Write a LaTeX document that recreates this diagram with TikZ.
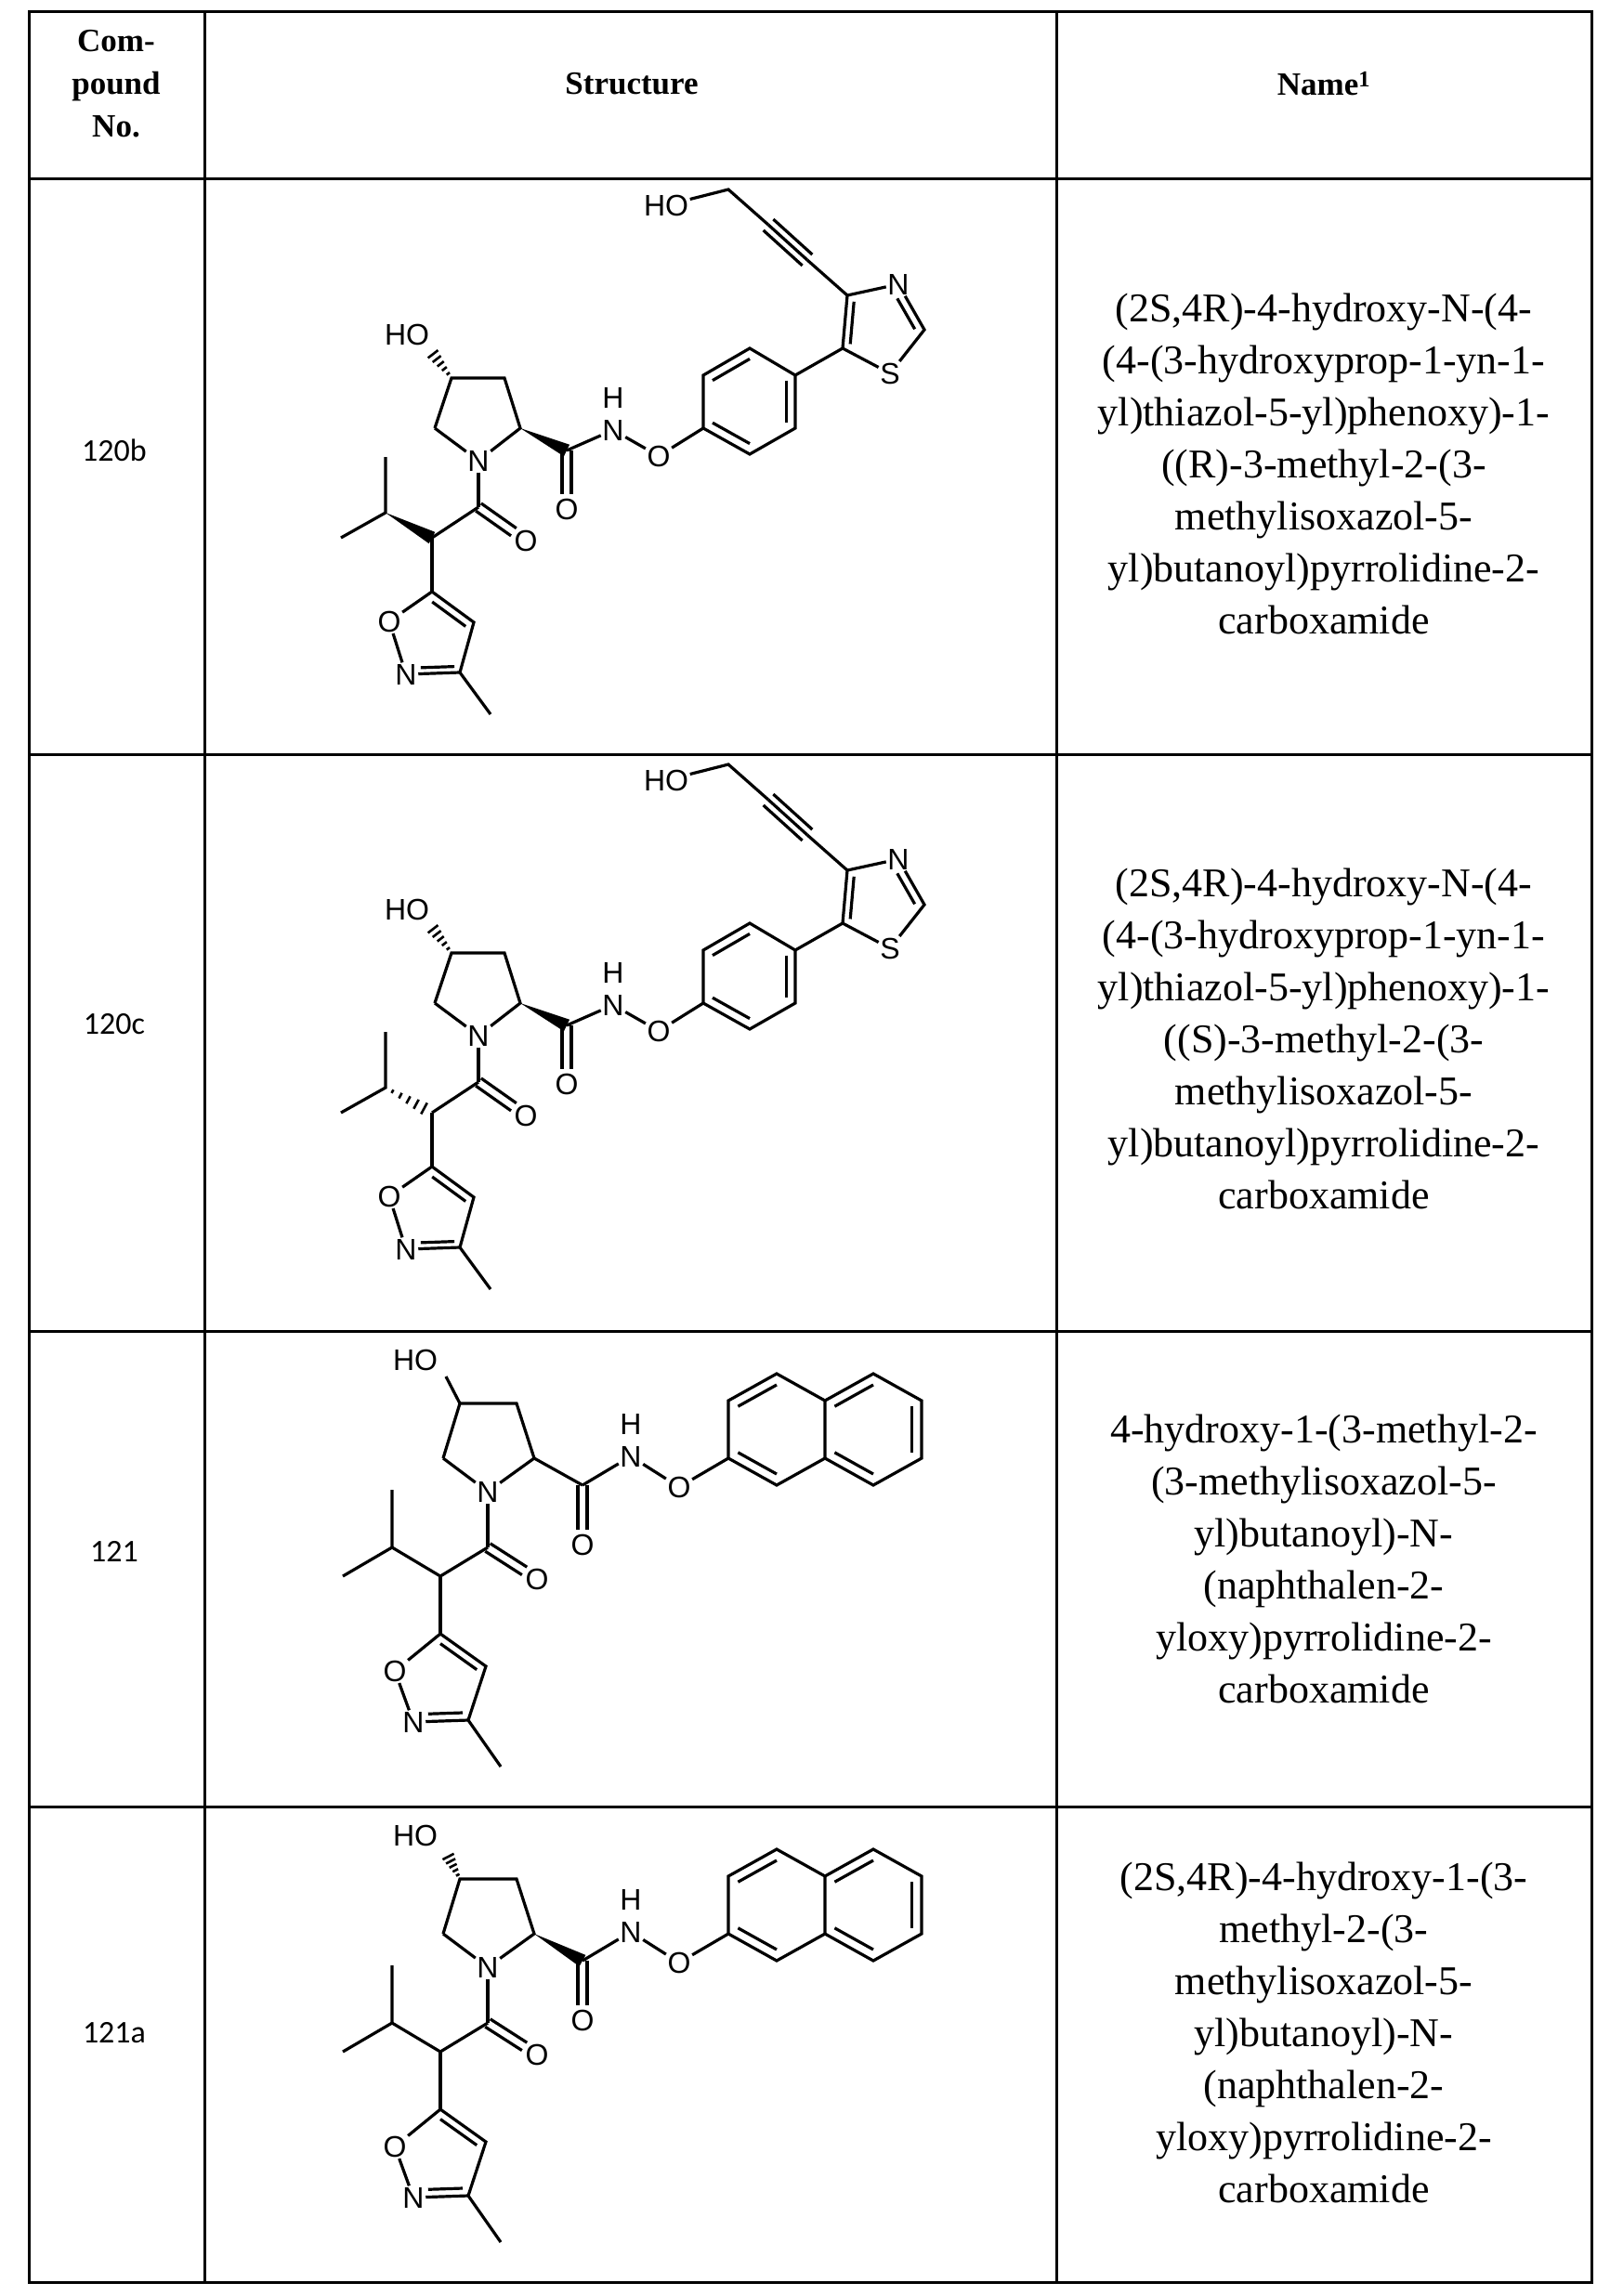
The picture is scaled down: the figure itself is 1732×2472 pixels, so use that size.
\documentclass[tikz,border=0pt]{standalone}
\usepackage{fontspec}
\setmainfont{Liberation Serif}
\newfontfamily\atomfont{Liberation Sans}
\newfontfamily\numfont{Carlito}
\usetikzlibrary{calc}
\tikzset{
  bond/.style={line width=3.2pt},
  grid/.style={line width=3pt},
  atom/.style={font=\atomfont\fontsize{32}{34}\selectfont, inner sep=1.5pt},
  hdr/.style={font=\bfseries\fontsize{35}{46}\selectfont, align=center},
  cname/.style={font=\fontsize{44}{56}\selectfont, align=center},
  cnum/.style={font=\numfont\fontsize{34}{40}\selectfont}
}
\newcommand\inb[3]{\draw[bond] ($(#1)!0.2!(#3)$) -- ($(#2)!0.2!(#3)$);}
\newcommand\pairb[3]{%
  \draw[bond,shorten >=#3] ($(#1)!5pt!90:(#2)$) -- ($(#2)!5pt!-90:(#1)$);
  \draw[bond,shorten >=#3] ($(#1)!5pt!-90:(#2)$) -- ($(#2)!5pt!90:(#1)$);}
\newcommand\wedgeb[2]{\fill (#1) -- ($(#2)!7pt!90:(#1)$) -- ($(#2)!7pt!-90:(#1)$) -- cycle;}
\newcommand\hashb[2]{%
  \foreach \t in {0.15,0.32,0.49,0.66,0.83,1.0}{%
    \pgfmathsetmacro\w{1+\t*7}%
    \draw[line width=2.6pt] ($(#1)!\t!(#2)!\w pt!90:(#2)$) -- ($(#1)!\t!(#2)!\w pt!-90:(#2)$);}}
% 120b / 120c
\newcommand\molA[2]{%
\begin{scope}[yshift=#1]
  \coordinate (c4) at (486,407); \coordinate (c3) at (543,407);
  \coordinate (c2) at (560,461); \coordinate (c5) at (468,461);
  \node[atom] (n1) at (515,496) {N};
  \node[atom] (ho) at (438,360) {HO};
  \coordinate (hoend) at (462,376);
  \coordinate (cam) at (610,485);
  \node[atom] (oam) at (610,548) {O};
  \node[atom] (nh) at (660,463) {N};
  \node[atom] (hh) at (660,428) {H};
  \node[atom] (ox) at (709,491) {O};
  \coordinate (p1) at (757,461); \coordinate (p2) at (757,404);
  \coordinate (p3) at (807,375); \coordinate (p4) at (856,404);
  \coordinate (p5) at (856,461); \coordinate (p6) at (807,489);
  \coordinate (pc) at (807,432);
  \coordinate (t5) at (907,375); \coordinate (t4) at (912,318);
  \node[atom] (tn) at (967,306) {N};
  \coordinate (t2) at (995,355);
  \node[atom] (ts) at (958,402) {S};
  \coordinate (tc) at (948,352);
  \coordinate (cb) at (869,280); \coordinate (ca) at (827,242);
  \coordinate (ch2) at (784,204);
  \node[atom] (hot) at (717,221) {HO};
  \coordinate (cac) at (515,546);
  \node[atom] (oac) at (566,582) {O};
  \coordinate (al) at (465,579); \coordinate (ipr) at (415,552);
  \coordinate (me1) at (415,492); \coordinate (me2) at (367,579);
  \coordinate (i5) at (465,637); \coordinate (i4) at (510,670);
  \coordinate (i3) at (495,724);
  \node[atom] (in) at (437,726) {N};
  \node[atom] (io) at (419,669) {O};
  \coordinate (ic) at (466,692);
  \coordinate (ime) at (528,769);
  \draw[bond] (c5) -- (c4) -- (c3) -- (c2) -- (n1) -- (c5);
  \hashb{c4}{hoend}
  \wedgeb{c2}{cam}
  \draw[bond] (cam) -- (nh);
  \pairb{cam}{oam}{16pt}
  \draw[bond] (nh) -- (ox); \draw[bond] (ox) -- (p1);
  \draw[bond] (p1) -- (p2) -- (p3) -- (p4) -- (p5) -- (p6) -- cycle;
  \inb{p2}{p3}{pc} \inb{p4}{p5}{pc} \inb{p6}{p1}{pc}
  \draw[bond] (p4) -- (t5);
  \draw[bond] (t5) -- (t4) -- (tn) -- (t2) -- (ts) -- (t5);
  \inb{t4}{t5}{tc}
  \draw[bond,shorten <=6pt] ($(tn)!0.22!(tc)$) -- ($(t2)!0.22!(tc)$);
  \draw[bond] (t4) -- (cb);
  \draw[bond] (cb) -- (ca);
  \draw[bond] ($(cb)!8pt!90:(ca)$) -- ($(ca)!8pt!-90:(cb)$);
  \draw[bond] ($(cb)!8pt!-90:(ca)$) -- ($(ca)!8pt!90:(cb)$);
  \draw[bond] (ca) -- (ch2) -- (hot);
  \draw[bond] (n1) -- (cac);
  \pairb{cac}{oac}{16pt}
  \draw[bond] (cac) -- (al);
  \ifnum#2=1 \wedgeb{ipr}{al} \else \hashb{ipr}{al} \fi
  \draw[bond] (me1) -- (ipr) -- (me2);
  \draw[bond] (al) -- (i5);
  \draw[bond] (i5) -- (i4) -- (i3) -- (in) -- (io) -- (i5);
  \inb{i5}{i4}{ic}
  \draw[bond,shorten <=10pt] ($(in)!0.2!(ic)$) -- ($(i3)!0.2!(ic)$);
  \draw[bond] (i3) -- (ime);
\end{scope}}
% 121 / 121a
\newcommand\molB[2]{%
\begin{scope}[yshift=#1]
  \coordinate (c4) at (495,1511); \coordinate (c3) at (556,1511);
  \coordinate (c2) at (575,1570); \coordinate (c5) at (477,1570);
  \node[atom] (n1) at (525,1606) {N};
  \node[atom] (ho) at (447,1464) {HO};
  \coordinate (hoend) at (480,1482);
  \coordinate (cam) at (627,1599);
  \node[atom] (oam) at (627,1663) {O};
  \node[atom] (nh) at (679,1568) {N};
  \node[atom] (hh) at (679,1533) {H};
  \node[atom] (ox) at (731,1601) {O};
  \coordinate (a1) at (784,1570); \coordinate (a2) at (784,1508);
  \coordinate (a3) at (836,1479); \coordinate (a4) at (888,1508);
  \coordinate (a5) at (888,1570); \coordinate (a6) at (836,1599);
  \coordinate (b3) at (940,1479); \coordinate (b4) at (992,1508);
  \coordinate (b5) at (992,1570); \coordinate (b6) at (940,1599);
  \coordinate (ac) at (836,1539); \coordinate (bc) at (940,1539);
  \coordinate (cac) at (525,1666);
  \node[atom] (oac) at (578,1700) {O};
  \coordinate (al) at (474,1697); \coordinate (ipr) at (422,1666);
  \coordinate (me1) at (422,1604); \coordinate (me2) at (369,1697);
  \coordinate (i5) at (474,1759); \coordinate (i4) at (523,1794);
  \coordinate (i3) at (504,1852);
  \node[atom] (in) at (445,1854) {N};
  \node[atom] (io) at (425,1799) {O};
  \coordinate (ic) at (474,1812);
  \coordinate (ime) at (539,1902);
  \draw[bond] (c5) -- (c4) -- (c3) -- (c2) -- (n1) -- (c5);
  \ifnum#2=1 \hashb{c4}{hoend} \wedgeb{c2}{cam}
  \else \draw[bond] (c4) -- (hoend); \draw[bond] (c2) -- (cam); \fi
  \draw[bond] (cam) -- (nh);
  \pairb{cam}{oam}{16pt}
  \draw[bond] (nh) -- (ox); \draw[bond] (ox) -- (a1);
  \draw[bond] (a1) -- (a2) -- (a3) -- (a4) -- (a5) -- (a6) -- cycle;
  \draw[bond] (a4) -- (b3) -- (b4) -- (b5) -- (b6) -- (a5);
  \inb{a2}{a3}{ac} \inb{a6}{a1}{ac}
  \inb{a4}{b3}{bc} \inb{b4}{b5}{bc} \inb{b6}{a5}{bc}
  \draw[bond] (n1) -- (cac);
  \pairb{cac}{oac}{16pt}
  \draw[bond] (cac) -- (al) -- (ipr);
  \draw[bond] (me1) -- (ipr) -- (me2);
  \draw[bond] (al) -- (i5);
  \draw[bond] (i5) -- (i4) -- (i3) -- (in) -- (io) -- (i5);
  \inb{i5}{i4}{ic}
  \draw[bond,shorten <=10pt] ($(in)!0.2!(ic)$) -- ($(i3)!0.2!(ic)$);
  \draw[bond] (i3) -- (ime);
\end{scope}}
\begin{document}
\begin{tikzpicture}[x=1pt,y=-1pt]
\useasboundingbox (0,0) rectangle (1732,2472);
\fill[white] (0,0) rectangle (1732,2472);
% table
\draw[grid] (31,13) rectangle (1713,2457);
\foreach \yy in {193,812,1433,1945} \draw[grid] (31,\yy) -- (1713,\yy);
\draw[grid] (220,13) -- (220,2457);
\draw[grid] (1137,13) -- (1137,2457);
% header
\node[hdr] (h1) at (125,90) {Com-\\pound\\No.};
\node[hdr] (h2) at (680,90) {Structure};
\node[hdr] (h3) at (1425,90) {Name\textsuperscript{1}};
% numbers
\node[cnum] (n120b) at (123,485) {120b};
\node[cnum] (n120c) at (123,1103) {120c};
\node[cnum] (n121) at (123,1670) {121};
\node[cnum] (n121a) at (123,2189) {121a};
% names
\node[cname] (m120b) at (1425,499) {(2S,4R)-4-hydroxy-N-(4-\\(4-(3-hydroxyprop-1-yn-1-\\yl)thiazol-5-yl)phenoxy)-1-\\((R)-3-methyl-2-(3-\\methylisoxazol-5-\\yl)butanoyl)pyrrolidine-2-\\carboxamide};
\node[cname] (m120c) at (1425,1118) {(2S,4R)-4-hydroxy-N-(4-\\(4-(3-hydroxyprop-1-yn-1-\\yl)thiazol-5-yl)phenoxy)-1-\\((S)-3-methyl-2-(3-\\methylisoxazol-5-\\yl)butanoyl)pyrrolidine-2-\\carboxamide};
\node[cname] (m121) at (1425,1678) {4-hydroxy-1-(3-methyl-2-\\(3-methylisoxazol-5-\\yl)butanoyl)-N-\\(naphthalen-2-\\yloxy)pyrrolidine-2-\\carboxamide};
\node[cname] (m121a) at (1425,2188) {(2S,4R)-4-hydroxy-1-(3-\\methyl-2-(3-\\methylisoxazol-5-\\yl)butanoyl)-N-\\(naphthalen-2-\\yloxy)pyrrolidine-2-\\carboxamide};
% structures
\molA{0pt}{1}
\molA{-619pt}{2}
\molB{0pt}{0}
\molB{-512pt}{1}
\end{tikzpicture}
\end{document}
